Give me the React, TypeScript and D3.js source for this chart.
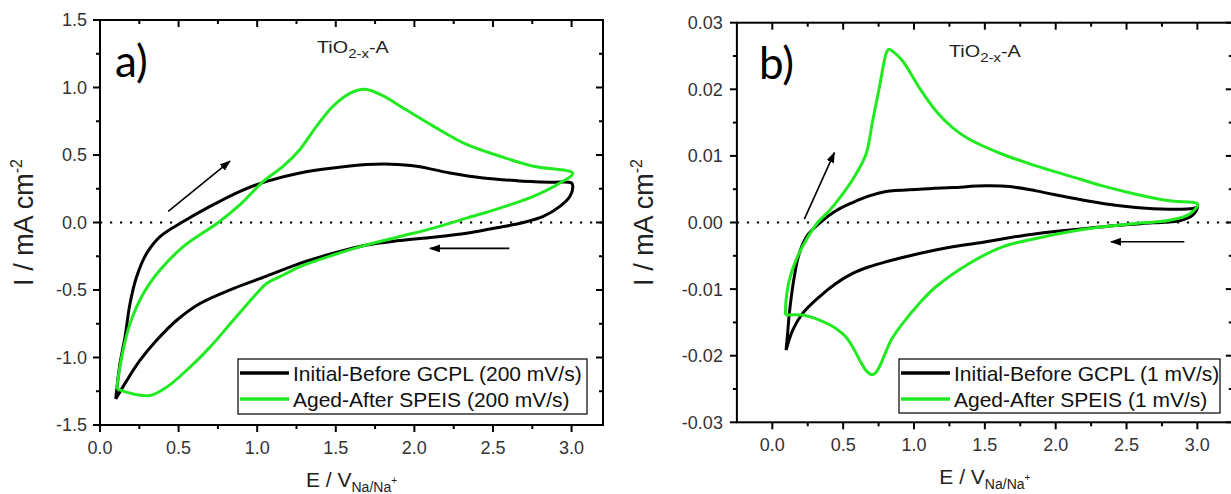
import React from 'react';
import * as d3 from 'd3';

// ---------- Panel a (200 mV/s) ----------
const aInitialE = [0.10, 0.127, 0.159, 0.191, 0.233, 0.297, 0.382, 0.530, 0.700, 0.891, 1.060, 1.272, 1.484, 1.696, 1.850, 2.014, 2.226, 2.438, 2.651, 2.863, 3.000, 3.008, 2.990, 2.926, 2.820, 2.693, 2.545, 2.332, 2.120, 1.908, 1.696, 1.484, 1.272, 1.060, 0.848, 0.636, 0.488, 0.360, 0.254, 0.170, 0.10];
const aInitialI = [-1.307, -1.047, -0.849, -0.600, -0.402, -0.228, -0.104, 0.007, 0.119, 0.231, 0.305, 0.367, 0.404, 0.429, 0.432, 0.417, 0.367, 0.330, 0.310, 0.298, 0.293, 0.265, 0.194, 0.119, 0.045, 0.0, -0.035, -0.079, -0.109, -0.134, -0.166, -0.228, -0.303, -0.397, -0.489, -0.600, -0.724, -0.873, -1.022, -1.171, -1.307];
const aAgedE = [0.106, 0.138, 0.191, 0.276, 0.382, 0.530, 0.753, 0.891, 1.039, 1.166, 1.272, 1.378, 1.484, 1.590, 1.686, 1.802, 1.908, 2.120, 2.332, 2.545, 2.757, 3.007, 2.926, 2.757, 2.545, 2.332, 2.120, 1.908, 1.696, 1.484, 1.272, 1.166, 1.060, 0.997, 0.848, 0.700, 0.573, 0.424, 0.318, 0.212, 0.106];
const aAgedI = [-1.233, -0.997, -0.749, -0.526, -0.352, -0.179, 0.0, 0.132, 0.305, 0.417, 0.541, 0.714, 0.863, 0.957, 0.987, 0.938, 0.863, 0.714, 0.578, 0.491, 0.417, 0.365, 0.293, 0.194, 0.107, 0.032, -0.042, -0.104, -0.166, -0.241, -0.327, -0.389, -0.452, -0.526, -0.724, -0.923, -1.071, -1.220, -1.282, -1.270, -1.233];

// ---------- Panel b (1 mV/s) ----------
const bInitialE = [0.097, 0.108, 0.120, 0.155, 0.190, 0.249, 0.338, 0.449, 0.567, 0.684, 0.802, 1.037, 1.272, 1.508, 1.673, 1.861, 2.096, 2.331, 2.566, 2.802, 2.970, 3.000, 2.967, 2.872, 2.684, 2.449, 2.214, 1.979, 1.743, 1.508, 1.273, 1.037, 0.802, 0.684, 0.567, 0.449, 0.332, 0.214, 0.144, 0.097];
const bInitialI = [-0.01915, -0.01665, -0.01365, -0.00815, -0.00465, -0.0019, 0.0, 0.00175, 0.0030, 0.0040, 0.00465, 0.0050, 0.00525, 0.0055, 0.0054, 0.00475, 0.00375, 0.00285, 0.00225, 0.0020, 0.0021, 0.0023, 0.0011, 0.00025, -0.00005, -0.0004, -0.0009, -0.0014, -0.00205, -0.0029, -0.00365, -0.00465, -0.0059, -0.00665, -0.00765, -0.00915, -0.01115, -0.01365, -0.01615, -0.01915];
const bAgedE = [0.092, 0.097, 0.120, 0.167, 0.238, 0.320, 0.402, 0.496, 0.590, 0.661, 0.708, 0.755, 0.802, 0.821, 0.861, 0.920, 1.037, 1.155, 1.272, 1.390, 1.625, 1.861, 2.096, 2.331, 2.566, 2.802, 3.002, 2.943, 2.802, 2.684, 2.566, 2.331, 2.096, 1.861, 1.625, 1.390, 1.155, 1.037, 0.920, 0.840, 0.790, 0.755, 0.725, 0.700, 0.665, 0.625, 0.575, 0.520, 0.449, 0.332, 0.214, 0.092];
const bAgedI = [-0.0139, -0.01165, -0.00865, -0.00565, -0.00265, 0.0, 0.00175, 0.00425, 0.00725, 0.01025, 0.01525, 0.02025, 0.02525, 0.0260, 0.0255, 0.02425, 0.02025, 0.01675, 0.01425, 0.0125, 0.01025, 0.0085, 0.0070, 0.0055, 0.00425, 0.00325, 0.00275, 0.00125, 0.00035, 0.00005, -0.00015, -0.00065, -0.0014, -0.0024, -0.00365, -0.00615, -0.00965, -0.01215, -0.01515, -0.01760, -0.02000, -0.02170, -0.02265, -0.02285, -0.02230, -0.02100, -0.01900, -0.01720, -0.01590, -0.01465, -0.0139, -0.0139];

// ---------- Ticks ----------
const aXTicks = [0, 0.5, 1.0, 1.5, 2.0, 2.5, 3.0];
const aXMinor = [0.25, 0.75, 1.25, 1.75, 2.25, 2.75];
const aYTicks = [-1.5, -1.0, -0.5, 0.0, 0.5, 1.0, 1.5];
const aYMinor = [-1.25, -0.75, -0.25, 0.25, 0.75, 1.25];
const bXTicks = [0, 0.5, 1.0, 1.5, 2.0, 2.5, 3.0];
const bXMinor = [0.25, 0.75, 1.25, 1.75, 2.25, 2.75];
const bYTicks = [-0.03, -0.02, -0.01, 0.0, 0.01, 0.02, 0.03];
const bYMinor = [-0.025, -0.015, -0.005, 0.005, 0.015, 0.025];

// ---------- Legends / annotations ----------
const aLegend = ['Initial-Before GCPL (200 mV/s)', 'Aged-After SPEIS (200 mV/s)'];
const bLegend = ['Initial-Before GCPL (1 mV/s)', 'Aged-After SPEIS (1 mV/s)'];
const aArrows = [[0.434, 0.082, 0.827, 0.454], [2.604, -0.192, 2.099, -0.192]];
const bArrows = [[0.226, 0.0005, 0.438, 0.0105], [2.908, -0.0029, 2.39, -0.0029]];

const GREEN = '#22ea22';
const FONT = "Arial, 'Liberation Sans', sans-serif";

function zip(E: number[], I: number[]) {
  return E.map((e, i) => [e, I[i]] as [number, number]);
}

type PanelProps = {
  id: string;
  xDomain: [number, number];
  xRange: [number, number];
  yDomain: [number, number];
  yRange: [number, number];
  xTicks: number[]; xMinor: number[];
  yTicks: number[]; yMinor: number[];
  yDigits: number;
  series: { pts: [number, number][]; color: string }[];
  legend: string[];
  legendBox: { x: number; y: number; w: number; h: number };
  arrows: number[][];
  letter: string;
  letterPos: [number, number];
  titlePos: [number, number];
  yTitleX: number;
  yLabelGap: number;
};

function Panel(p: PanelProps) {
  const x = d3.scaleLinear().domain(p.xDomain).range(p.xRange);
  const y = d3.scaleLinear().domain(p.yDomain).range(p.yRange);
  const [L, R] = p.xRange;
  const [B, T] = p.yRange;
  const line = d3.line<[number, number]>().x(d => x(d[0])).y(d => y(d[1])).curve(d3.curveCatmullRom.alpha(0.5));
  const fmtY = (v: number) => (v < 0 ? '-' : '') + Math.abs(v).toFixed(p.yDigits);
  const fmtX = (v: number) => (v < 0 ? '-' : '') + Math.abs(v).toFixed(1);
  const MJ = 7, MN = 4;
  const lb = p.legendBox;
  return (
    <g>
      <defs>
        <marker id={`arr-${p.id}`} markerUnits="userSpaceOnUse" markerWidth={11} markerHeight={8} refX={10} refY={4} orient="auto">
          <path d="M0,0 L11,4 L0,8 Z" fill="#000" />
        </marker>
      </defs>
      {/* zero line */}
      <line x1={L} x2={R} y1={y(0)} y2={y(0)} stroke="#000" strokeWidth={2.2} strokeDasharray="2.2 7.8" />
      {/* curves */}
      {p.series.map((s, i) => (
        <path key={i} d={line(s.pts) || ''} fill="none" stroke={s.color} strokeWidth={3} strokeLinejoin="round" />
      ))}
      {/* arrows */}
      {p.arrows.map((a, i) => (
        <line key={i} x1={x(a[0])} y1={y(a[1])} x2={x(a[2])} y2={y(a[3])} stroke="#000" strokeWidth={1.6} markerEnd={`url(#arr-${p.id})`} />
      ))}
      {/* frame */}
      <rect x={L} y={T} width={R - L} height={B - T} fill="none" stroke="#000" strokeWidth={2} />
      {/* x ticks */}
      {p.xTicks.map(v => (
        <g key={'xt' + v}>
          <line x1={x(v)} x2={x(v)} y1={B} y2={B + MJ} stroke="#000" strokeWidth={2} />
          <line x1={x(v)} x2={x(v)} y1={T} y2={T + MJ} stroke="#000" strokeWidth={2} />
          <text x={x(v)} y={B + 29} textAnchor="middle" fontFamily={FONT} fontSize={18} fill="#333">{fmtX(v)}</text>
        </g>
      ))}
      {p.xMinor.map(v => (
        <g key={'xm' + v}>
          <line x1={x(v)} x2={x(v)} y1={B} y2={B + MN} stroke="#000" strokeWidth={2} />
          <line x1={x(v)} x2={x(v)} y1={T} y2={T + MN} stroke="#000" strokeWidth={2} />
        </g>
      ))}
      {/* y ticks */}
      {p.yTicks.map(v => (
        <g key={'yt' + v}>
          <line x1={L - MJ} x2={L} y1={y(v)} y2={y(v)} stroke="#000" strokeWidth={2} />
          <line x1={R - MJ} x2={R} y1={y(v)} y2={y(v)} stroke="#000" strokeWidth={2} />
          <text x={L - p.yLabelGap} y={y(v)} dy="0.36em" textAnchor="end" fontFamily={FONT} fontSize={18} fill="#333">{fmtY(v)}</text>
        </g>
      ))}
      {p.yMinor.map(v => (
        <g key={'ym' + v}>
          <line x1={L - MN} x2={L} y1={y(v)} y2={y(v)} stroke="#000" strokeWidth={2} />
          <line x1={R - MN} x2={R} y1={y(v)} y2={y(v)} stroke="#000" strokeWidth={2} />
        </g>
      ))}
      {/* axis titles */}
      <text x={(L + R) / 2} y={B + 62} textAnchor="middle" fontFamily={FONT} fontSize={21} fill="#222">
        E / V<tspan fontSize={14} dy={5}>Na/Na</tspan><tspan fontSize={10} dy={-8}>+</tspan>
      </text>
      <text transform={`translate(${p.yTitleX},${(T + B) / 2}) rotate(-90)`} textAnchor="middle" fontFamily={FONT} fontSize={27} fill="#222">
        I / mA cm<tspan fontSize={16} dy={-11}>-2</tspan>
      </text>
      {/* panel letter */}
      <text x={p.letterPos[0]} y={p.letterPos[1]} fontFamily="Lato, 'Open Sans', sans-serif" fontSize={44} fill="#000">{p.letter}</text>
      {/* material label */}
      <text transform={`translate(${p.titlePos[0]},${p.titlePos[1]}) scale(1.2,1)`} fontFamily={FONT} fontSize={16.5} fill="#222">
        TiO<tspan fontSize={12.5} dy={5}>2-x</tspan><tspan fontSize={16.5} dy={-5}>-A</tspan>
      </text>
      {/* legend */}
      <rect x={lb.x} y={lb.y} width={lb.w} height={lb.h} fill="#fff" stroke="#000" strokeWidth={1.2} />
      {p.legend.map((t, i) => (
        <g key={'lg' + i}>
          <line x1={lb.x + 2} x2={lb.x + 51} y1={lb.y + 14 + i * 26} y2={lb.y + 14 + i * 26} stroke={p.series[i].color} strokeWidth={3.5} />
          <text x={lb.x + 55} y={lb.y + 21.5 + i * 26} fontFamily={FONT} fontSize={21} fill="#111">{t}</text>
        </g>
      ))}
    </g>
  );
}

export default function App() {
  return (
    <svg width={1231} height={494} style={{ position: 'absolute', left: 0, top: 0, background: '#fff' }}>
      <rect x={0} y={0} width={1231} height={494} fill="#fff" />
      <Panel
        id="a"
        xDomain={[0, 3.2]} xRange={[100, 603]}
        yDomain={[-1.5, 1.5]} yRange={[425, 20]}
        xTicks={aXTicks} xMinor={aXMinor} yTicks={aYTicks} yMinor={aYMinor}
        yDigits={1}
        series={[{ pts: zip(aInitialE, aInitialI), color: '#000' }, { pts: zip(aAgedE, aAgedI), color: GREEN }]}
        legend={aLegend}
        legendBox={{ x: 238, y: 359, w: 349, h: 55 }}
        arrows={aArrows}
        letter="a)" letterPos={[115, 77]}
        titlePos={[317, 53]}
        yTitleX={33}
        yLabelGap={13}
      />
      <Panel
        id="b"
        xDomain={[-0.25, 3.25]} xRange={[736.9, 1232.8]}
        yDomain={[-0.03, 0.03]} yRange={[422.3, 22.7]}
        xTicks={bXTicks} xMinor={bXMinor} yTicks={bYTicks} yMinor={bYMinor}
        yDigits={2}
        series={[{ pts: zip(bInitialE, bInitialI), color: '#000' }, { pts: zip(bAgedE, bAgedI), color: GREEN }]}
        legend={bLegend}
        legendBox={{ x: 899, y: 359, w: 321, h: 54 }}
        arrows={bArrows}
        letter="b)" letterPos={[759, 79]}
        titlePos={[949, 57]}
        yTitleX={653}
        yLabelGap={14}
      />
    </svg>
  );
}
